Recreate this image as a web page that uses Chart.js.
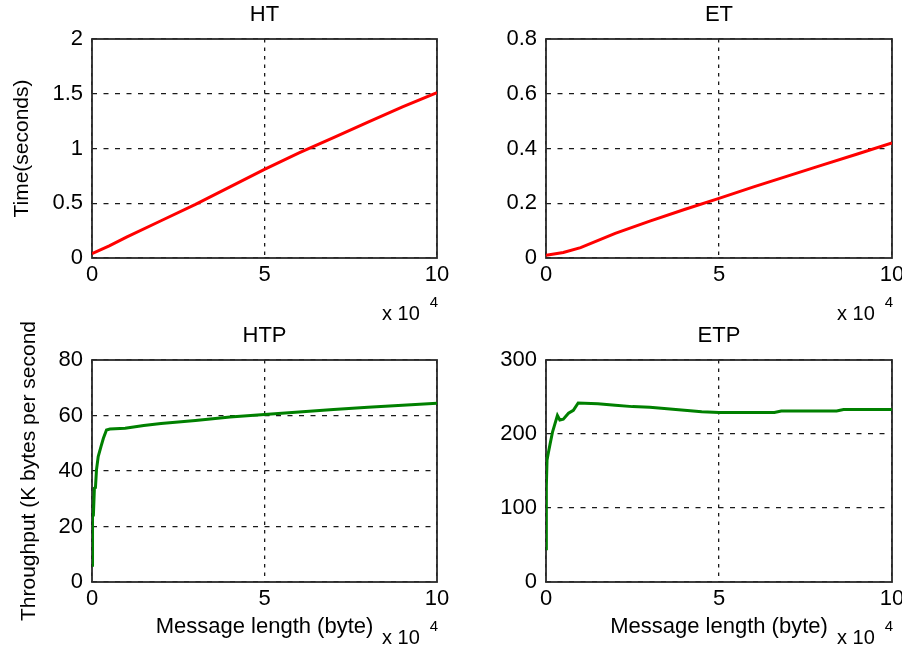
<!DOCTYPE html>
<html>
<head>
<meta charset="utf-8">
<title>HT / ET / HTP / ETP</title>
<script src="https://cdn.jsdelivr.net/npm/chart.js@4.4.1/dist/chart.umd.min.js"></script>
<style>
  html, body { margin: 0; padding: 0; background: #fff; overflow: hidden; }
  #wrap { position: relative; width: 902px; height: 646px; }
  #wrap canvas { position: absolute; left: 0; top: 0; }
</style>
</head>
<body>
<div id="wrap">
  <canvas id="ht" width="920" height="646"></canvas>
  <canvas id="et" width="920" height="646"></canvas>
  <canvas id="htp" width="920" height="646"></canvas>
  <canvas id="etp" width="920" height="646"></canvas>
</div>
<script>
// message length in bytes (axis shows x 10^4)
const htLength = [0, 5000, 10000, 20000, 30000, 40000, 50000, 60000, 70000, 80000, 90000, 100000];
const htTime = [0.04, 0.11, 0.19, 0.34, 0.49, 0.65, 0.81, 0.96, 1.1, 1.24, 1.38, 1.51];

const etLength = [0, 5000, 10000, 20000, 30000, 40000, 50000, 60000, 70000, 80000, 90000, 100000];
const etTime = [0.01, 0.02, 0.038, 0.09, 0.135, 0.177, 0.218, 0.26, 0.30, 0.34, 0.38, 0.42];

const htpLength = [0, 150, 400, 700, 1000, 1300, 1800, 2600, 3300, 4200, 5200, 9600, 15000, 20000,
  30000, 40000, 50000, 60000, 70000, 80000, 90000, 100000];
const htpRate = [6, 23.5, 24, 33.8, 34, 40.4, 45.2, 48.8, 51.8, 54.8, 55.1, 55.4, 56.4, 57.1,
  58.2, 59.5, 60.4, 61.3, 62.2, 63.0, 63.7, 64.4];

const etpLength = [0, 100, 300, 700, 1200, 1900, 2600, 3300, 4000, 5000, 6500, 7900, 9300, 15000,
  20000, 25000, 30000, 35000, 40000, 45000, 50000, 60000, 66000, 68000, 84000, 86000, 100000];
const etpRate = [45, 129, 165, 175, 187, 203, 214, 225, 219, 220, 228, 232, 242, 241,
  239, 237, 236, 234, 232, 230, 229, 229, 229, 231, 231, 233, 233];

const xTicks = [0, 50000, 100000];

Chart.defaults.font.family = '"Liberation Sans", Arial, sans-serif';
Chart.defaults.color = '#000';

// box around the plot area (drawn before the line so the line sits on top)
const boxPlugin = {
  id: 'box',
  beforeDatasetsDraw(chart) {
    const a = chart.chartArea;
    const ctx = chart.ctx;
    ctx.save();
    ctx.strokeStyle = '#2a2a2a';
    ctx.lineWidth = 1.8;
    ctx.strokeRect(a.left, a.top, a.right - a.left, a.bottom - a.top);
    ctx.restore();
  }
};

// the "x 10^4" note under the right end of the x axis
const exponentPlugin = {
  id: 'exponent',
  afterDraw(chart) {
    const a = chart.chartArea;
    const ctx = chart.ctx;
    const x = a.right - 55;
    const y = a.bottom + 62;
    ctx.save();
    ctx.fillStyle = '#000';
    ctx.textBaseline = 'alphabetic';
    ctx.textAlign = 'left';
    ctx.font = '20px "Liberation Sans", Arial, sans-serif';
    ctx.fillText('x 10', x, y);
    const w = ctx.measureText('x 10').width;
    ctx.font = '15px "Liberation Sans", Arial, sans-serif';
    ctx.fillText('4', x + w + 10, y - 13);
    ctx.restore();
  }
};

function makeChart(id, opt) {
  const points = opt.xs.map((x, i) => ({ x: x, y: opt.ys[i] }));
  return new Chart(document.getElementById(id), {
    type: 'line',
    data: {
      datasets: [{
        data: points,
        borderColor: opt.color,
        borderWidth: 3,
        pointRadius: 0,
        tension: 0,
        fill: false
      }]
    },
    plugins: [boxPlugin, exponentPlugin],
    options: {
      responsive: false,
      animation: false,
      events: [],
      layout: { padding: opt.padding },
      plugins: {
        legend: { display: false },
        tooltip: { enabled: false },
        title: {
          display: true,
          text: opt.title,
          fullSize: false,
          color: '#000',
          font: { size: 22, weight: 'normal' },
          padding: opt.titlePadding
        }
      },
      scales: {
        x: {
          type: 'linear',
          min: 0,
          max: 100000,
          afterBuildTicks: (s) => { s.ticks = xTicks.map(v => ({ value: v })); },
          afterFit: (s) => { s.height = opt.xHeight; },
          ticks: {
            padding: 3.5,
            font: { size: 22 },
            maxRotation: 0,
            callback: (v) => String(v / 10000)
          },
          grid: { color: '#1a1a1a', lineWidth: 1.3, drawTicks: false },
          border: { display: false, dash: [3.5, 5] },
          title: {
            display: !!opt.xTitle,
            text: opt.xTitle || '',
            font: { size: 22 },
            padding: { top: 0, bottom: 6 }
          }
        },
        y: {
          min: opt.yMin,
          max: opt.yMax,
          afterFit: (s) => { s.width = opt.yWidth; },
          ticks: {
            stepSize: opt.yStep,
            padding: 9,
            font: { size: 22 },
            // MATLAB style: 1 not 1.0
            callback: (v) => String(+v.toFixed(3))
          },
          grid: { color: '#1a1a1a', lineWidth: 1.3, drawTicks: false },
          border: { display: false, dash: [5, 6.5] },
          title: {
            display: !!opt.yTitle,
            text: opt.yTitle || '',
            font: { size: 21 },
            padding: { top: opt.yTitlePad || 0, bottom: 0 }
          }
        }
      }
    }
  });
}

// top row
makeChart('ht', {
  title: 'HT', xs: htLength, ys: htTime, color: '#ff0000',
  yMin: 0, yMax: 2, yStep: 0.5, yTitle: 'Time(seconds)', yTitlePad: 10,
  padding: { left: 0, top: 0, right: 920 - 437, bottom: 328 },
  titlePadding: { top: 2, bottom: 10.6 }, yWidth: 92, xHeight: 60
});
makeChart('et', {
  title: 'ET', xs: etLength, ys: etTime, color: '#ff0000',
  yMin: 0, yMax: 0.8, yStep: 0.2,
  padding: { left: 451, top: 0, right: 920 - 892, bottom: 328 },
  titlePadding: { top: 2, bottom: 10.6 }, yWidth: 95, xHeight: 60
});

// bottom row
makeChart('htp', {
  title: 'HTP', xs: htpLength, ys: htpRate, color: '#008000',
  yMin: 0, yMax: 80, yStep: 20, yTitle: 'Throughput (K bytes per second', yTitlePad: 17,
  xTitle: 'Message length (byte)',
  padding: { left: 0, top: 320, right: 920 - 437, bottom: 0 },
  titlePadding: { top: 2.5, bottom: 11.1 }, yWidth: 92, xHeight: 64
});
makeChart('etp', {
  title: 'ETP', xs: etpLength, ys: etpRate, color: '#008000',
  yMin: 0, yMax: 300, yStep: 100,
  xTitle: 'Message length (byte)',
  padding: { left: 451, top: 320, right: 920 - 892, bottom: 0 },
  titlePadding: { top: 2.5, bottom: 11.1 }, yWidth: 95, xHeight: 64
});
</script>
</body>
</html>
